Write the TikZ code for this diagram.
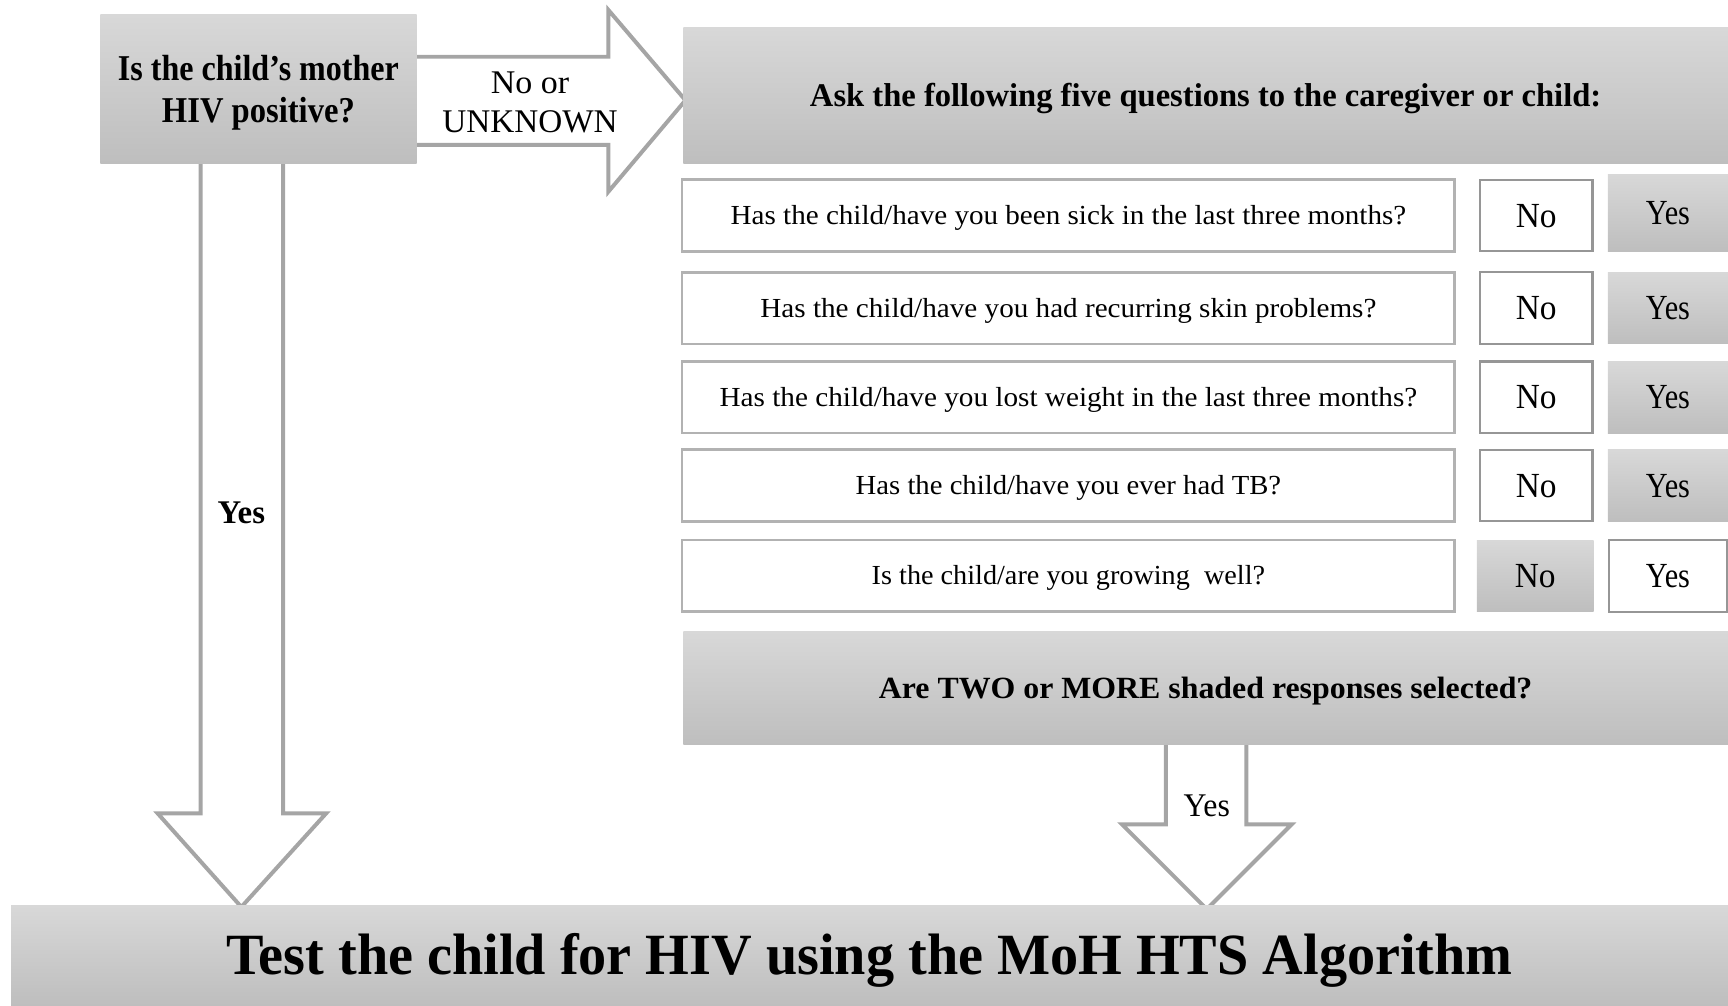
\documentclass[tikz,border=0pt]{standalone}
\usepackage{fontspec}
\setmainfont{Liberation Serif}
\usepackage{graphicx}
\usetikzlibrary{backgrounds}
\newcommand\fitw[2]{\resizebox{#1}{\height}{#2}}
\definecolor{gtop}{RGB}{216,216,216}
\definecolor{gbot}{RGB}{190,190,190}
\definecolor{arrline}{RGB}{165,165,165}
\definecolor{qline}{RGB}{178,178,178}
\definecolor{aline}{RGB}{150,150,150}
\begin{document}
\begin{tikzpicture}[x=1pt,y=-1pt,
  capc/.style={text height=#1,text depth=0pt},
  graybox/.style={top color=gtop,bottom color=gbot,draw=none,inner sep=0pt,text=black},
  qbox/.style={draw=qline,line width=2.4pt,fill=white,minimum width=701pt,minimum height=65pt,inner sep=0pt,font=\fontsize{25}{29}\selectfont,capc=16.5pt},
  abox/.style={draw=aline,line width=2pt,fill=white,minimum width=102pt,minimum height=65pt,inner sep=0pt,font=\fontsize{32}{36}\selectfont,capc=21.2pt},
  ashade/.style={graybox,minimum width=106pt,minimum height=65pt,font=\fontsize{32}{36}\selectfont,capc=21.2pt},
  blockarrow/.style={draw=arrline,line width=3.6pt,fill=white,line join=miter},
  lbl/.style={inner sep=0pt,font=\fontsize{30}{36}\selectfont}]
\useasboundingbox (0,0) rectangle (1568,912);

% first question
\node[graybox,minimum width=287pt,minimum height=135pt] (q0) at (234.5,80.5) {};
\node[lbl,align=center,font=\fontsize{33}{38}\selectfont\bfseries] (q0t) at (234.5,84)
  {\fitw{255pt}{Is the child's mother}\\\fitw{175pt}{HIV positive?}};

% header
\node[graybox,minimum width=948pt,minimum height=123pt,font=\fontsize{30}{36}\selectfont\bfseries,capc=19.9pt] (hdr) at (1094,86.5)
  {\fitw{718pt}{Ask the following five questions to the caregiver or child:}};

% questions
\node[qbox] (q1) at (969.5,195.5) {\fitw{613pt}{Has the child/have you been sick in the last three months?}};
\node[qbox] (q2) at (969.5,279.5) {\fitw{559pt}{Has the child/have you had recurring skin problems?}};
\node[qbox] (q3) at (969.5,360.5) {\fitw{633pt}{Has the child/have you lost weight in the last three months?}};
\node[qbox] (q4) at (969.5,440.5) {\fitw{386pt}{Has the child/have you ever had TB?}};
\node[qbox] (q5) at (969.5,522.5) {\fitw{357pt}{Is the child/are you growing\ \ well?}};

% answers
\node[abox] (n1) at (1394,195.5) {\fitw{37pt}{No}};
\node[abox] (n2) at (1394,279.5) {\fitw{37pt}{No}};
\node[abox] (n3) at (1394,360.5) {\fitw{37pt}{No}};
\node[abox] (n4) at (1394,440.5) {\fitw{37pt}{No}};
\node[ashade] (n5) at (1393,522.5) {\fitw{37pt}{No}};
\node[ashade,minimum width=109pt,minimum height=70pt] (y1) at (1513.5,193) {\fitw{40pt}{Yes}};
\node[ashade,minimum width=109pt] (y2) at (1513.5,279.5) {\fitw{40pt}{Yes}};
\node[ashade,minimum width=109pt] (y3) at (1513.5,360.5) {\fitw{40pt}{Yes}};
\node[ashade,minimum width=109pt] (y4) at (1513.5,440.5) {\fitw{40pt}{Yes}};
\node[abox,minimum width=107pt] (y5) at (1513.5,522.5) {\fitw{40pt}{Yes}};

% check
\node[graybox,minimum width=948pt,minimum height=103pt,font=\fontsize{28}{34}\selectfont\bfseries,capc=18.5pt] (chk) at (1094,624.5)
  {\fitw{593pt}{Are TWO or MORE shaded responses selected?}};

% result
\node[graybox,minimum width=1558pt,minimum height=90pt,font=\fontsize{53}{60}\selectfont\bfseries,capc=35.1pt] (res) at (789,867)
  {\fitw{1167pt}{Test the child for HIV using the MoH HTS Algorithm}};

% block arrows (behind boxes)
\begin{scope}[on background layer]
\coordinate (tipR) at (622,91);
\coordinate (tipL) at (219,823);
\coordinate (tipD) at (1095,825);
\draw[blockarrow] (q0.east |- 0,51.5) -- (552,51.5) -- (552,9) -- (tipR) -- (552,174) -- (552,131.5) -- (q0.east |- 0,131.5);
\draw[blockarrow] (182,0 |- q0.south) -- (182,738) -- (143,738) -- (tipL) -- (296,738) -- (257,738) -- (257,0 |- q0.south);
\draw[blockarrow] (1058,0 |- chk.south) -- (1058,748) -- (1018,748) -- (tipD) -- (1172,748) -- (1131,748) -- (1131,0 |- chk.south);
\end{scope}

% arrow labels
\node[lbl,align=center] (lno) at (481,93) {\fitw{71pt}{No or}\\\fitw{159pt}{UNKNOWN}};
\node[lbl,capc=19.9pt,font=\fontsize{30}{36}\selectfont\bfseries] (lyes) at (219,465) {\fitw{43pt}{Yes}};
\node[lbl,capc=19.9pt] (dyes) at (1095,731) {\fitw{42pt}{Yes}};
\end{tikzpicture}
\end{document}
